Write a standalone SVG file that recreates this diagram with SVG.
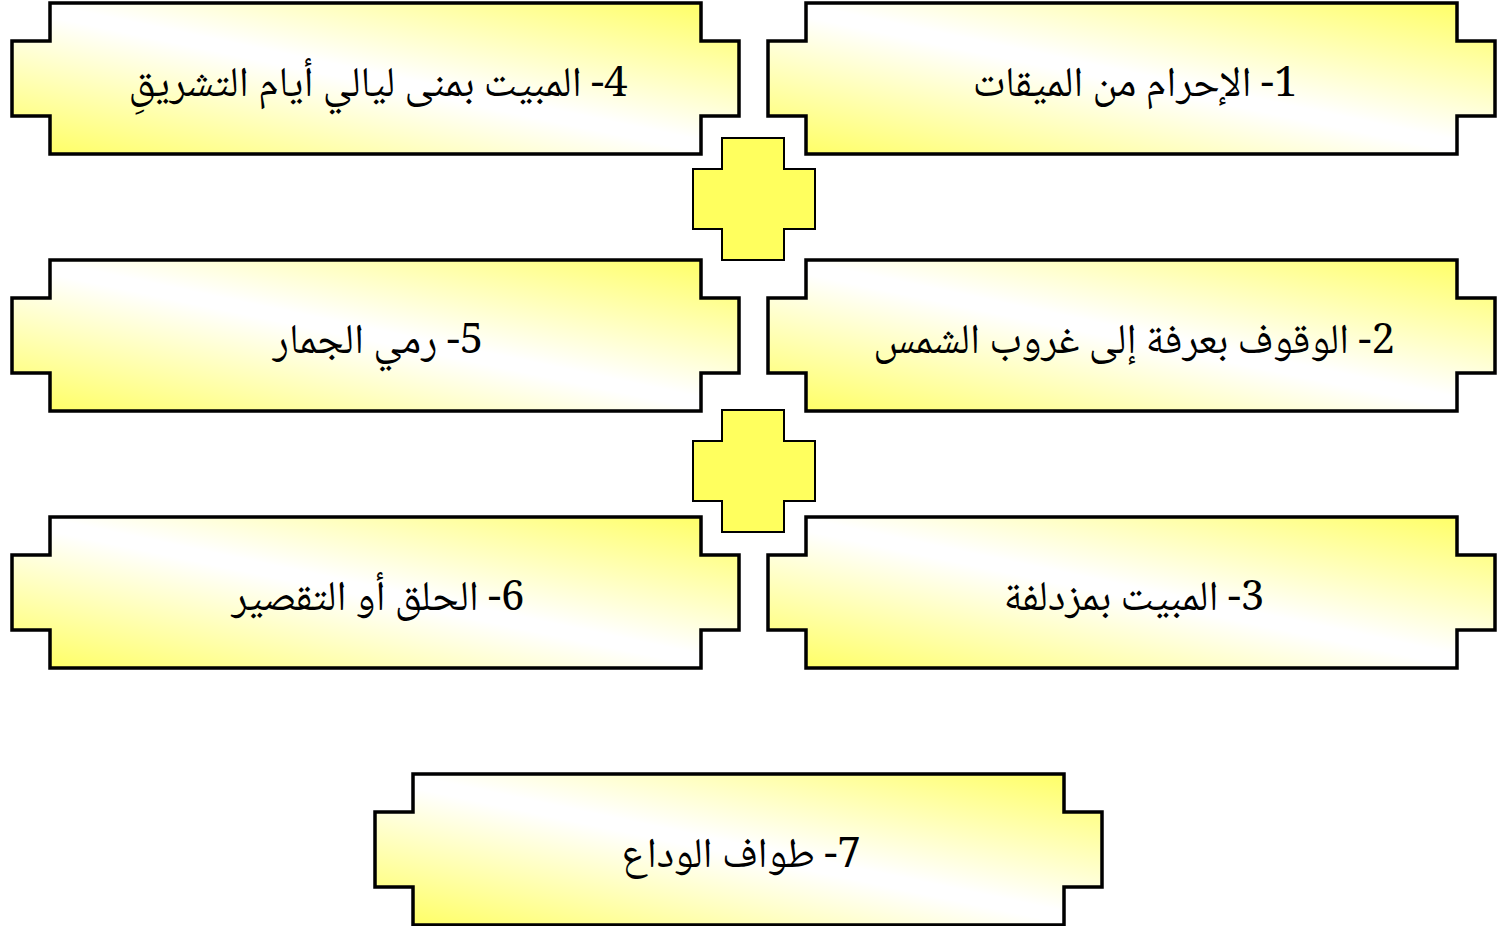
<svg xmlns="http://www.w3.org/2000/svg" xmlns:xlink="http://www.w3.org/1999/xlink" width="1501" height="926" viewBox="0 0 1501 926">
<defs>
<linearGradient id="g" x1="1" y1="0" x2="0" y2="1">
<stop offset="0" stop-color="#ffff5e"/>
<stop offset="0.48" stop-color="#ffffff"/>
<stop offset="0.52" stop-color="#ffffff"/>
<stop offset="1" stop-color="#ffff5e"/>
</linearGradient>
<path id="box" d="M38 0H689V38H727V113H689V151H38V113H0V38H38Z"/>
<path id="cross" d="M29 0H91V31H122V91H91V122H29V91H0V31H29Z"/>
</defs>
<style>
.b{fill:url(#g);stroke:#000;stroke-width:3.5}
.c{fill:#ffff5e;stroke:#000;stroke-width:2}
.t{font-family:"Noto Naskh Arabic","Amiri","Scheherazade New","DejaVu Sans",sans-serif;font-size:42px;fill:#000;text-anchor:middle;direction:rtl}
</style>
<rect width="1501" height="926" fill="#ffffff"/>
<g id="connectors">
<use xlink:href="#cross" class="c" x="693" y="138"/>
<use xlink:href="#cross" class="c" x="693" y="410"/>
</g>
<g id="n1"><use xlink:href="#box" class="b" x="768" y="3"/><text class="t" x="1135" y="96">1- الإحرام من الميقات</text></g>
<g id="n4"><use xlink:href="#box" class="b" x="12" y="3"/><text class="t" x="378" y="96">4- المبيت بمنى ليالي أيام التشريقِ</text></g>
<g id="n2"><use xlink:href="#box" class="b" x="768" y="260"/><text class="t" x="1134" y="353">2- الوقوف بعرفة إلى غروب الشمس</text></g>
<g id="n5"><use xlink:href="#box" class="b" x="12" y="260"/><text class="t" x="378" y="353">5- رمي الجمار</text></g>
<g id="n3"><use xlink:href="#box" class="b" x="768" y="517"/><text class="t" x="1134" y="610">3- المبيت بمزدلفة</text></g>
<g id="n6"><use xlink:href="#box" class="b" x="12" y="517"/><text class="t" x="378" y="610">6- الحلق أو التقصير</text></g>
<g id="n7"><use xlink:href="#box" class="b" x="375" y="774"/><text class="t" x="741" y="867">7- طواف الوداع</text></g>
</svg>
